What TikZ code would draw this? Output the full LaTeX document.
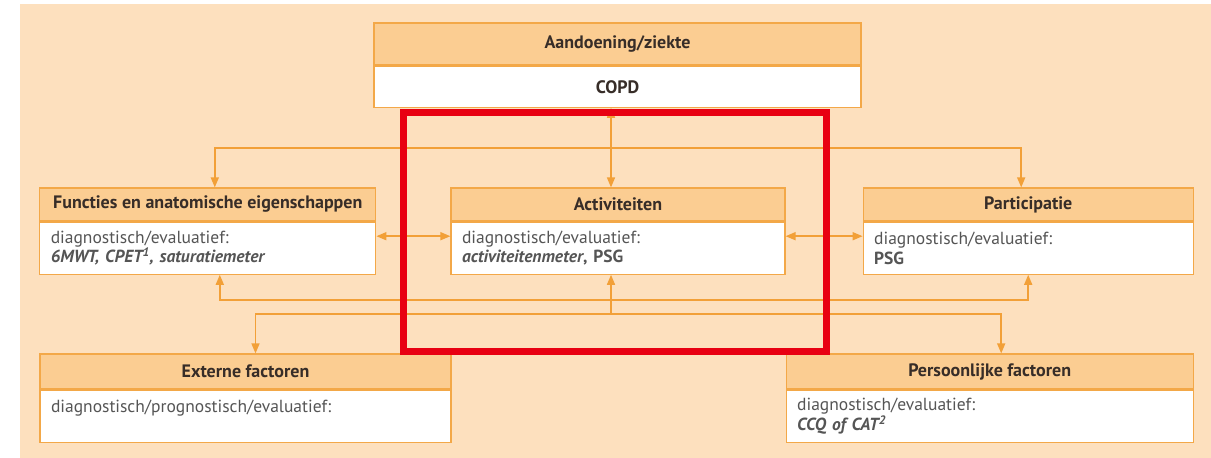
\documentclass[tikz,border=0pt]{standalone}
\usepackage{fontspec}
\setmainfont{PT Sans}
\usetikzlibrary{arrows.meta,positioning}
\definecolor{peach}{RGB}{253,224,190}
\definecolor{headfill}{RGB}{251,205,146}
\definecolor{boxline}{RGB}{243,168,72}
\definecolor{flow}{RGB}{242,160,56}
\definecolor{markred}{RGB}{232,0,18}
\definecolor{headtext}{RGB}{55,45,40}
\definecolor{bodytext}{RGB}{85,85,85}

\begin{document}
\begin{tikzpicture}[
  x=1pt, y=-1pt,
  font=\fontsize{17.5}{19.5}\selectfont,
  >={Triangle[length=10pt,width=8pt]},
  head/.style={draw=boxline, fill=headfill, line width=1.2pt, font=\fontsize{18}{20}\selectfont\bfseries, text=headtext, minimum height=33pt, inner sep=0pt},
  body/.style={draw=boxline, fill=white, line width=1.2pt, align=left, text width=#1, minimum height=52pt, inner xsep=11pt, inner ysep=0pt, text=bodytext},
  oneway/.style={->, draw=flow, line width=1.5pt},
  twoway/.style={<->, draw=flow, line width=1.5pt}
]
\useasboundingbox (0,0) rectangle (1211,458);
\fill[peach] (20,4) rectangle (1211,458);

% disease on top
\node[head, minimum width=487pt, minimum height=42pt] (dishead) at (617.5,44) {Aandoening/ziekte};
\node[head, fill=white, below=0pt of dishead, minimum width=487pt, minimum height=41pt] (disbody) {COPD};

% middle row
\node[head, minimum width=334pt] (acthead) at (618,204.5) {Activiteiten};
\node[body=312pt, below=0pt of acthead] (actbody) {diagnostisch/evaluatief:\\\textbf{\textit{activiteitenmeter},} \textbf{PSG}};

\node[head, minimum width=336pt, left=74pt of acthead] (funhead) {Functies en anatomische eigenschappen};
\node[body=314pt, below=0pt of funhead] (funbody) {diagnostisch/evaluatief:\\\textbf{\textit{6MWT, CPET\textsuperscript{1}, saturatiemeter}}};

\node[head, minimum width=330pt, right=77pt of acthead] (parthead) {Participatie};
\node[body=308pt, below=0pt of parthead] (partbody) {diagnostisch/evaluatief:\\\textbf{PSG}};

% bottom row
\node[head, minimum width=411pt, minimum height=35pt] (exthead) at (245.5,371.5) {Externe factoren};
\node[body=389pt, below=0pt of exthead] (extbody) {diagnostisch/prognostisch/evaluatief:\\~};

\node[head, minimum width=407pt, minimum height=35pt, right=334pt of exthead] (perhead) {Persoonlijke factoren};
\node[body=385pt, below=0pt of perhead] (perbody) {diagnostisch/evaluatief:\\\textbf{\textit{CCQ of CAT\textsuperscript{2}}}};

% connectors
\coordinate (topfork) at (611,148);
\coordinate (midbus) at (611,300);
\coordinate (lowfork) at (611,314);

\draw[twoway] (topfork |- disbody.south) -- (topfork |- acthead.north);
\draw[oneway] (topfork) -| ([xshift=7pt]funhead.north);
\draw[oneway] (topfork) -| ([xshift=-7pt]parthead.north);

\draw[twoway] ([yshift=12pt]funbody.east) -- ([yshift=12pt]actbody.west);
\draw[twoway] ([yshift=12pt]actbody.east) -- ([yshift=12pt]partbody.west);

\draw[oneway] (lowfork) -- (lowfork |- actbody.south);
\draw[oneway] (midbus) -| ([xshift=12pt]funbody.south);
\draw[oneway] (midbus) -| (partbody.south);
\draw[oneway] (lowfork) -| ([xshift=10pt]exthead.north);
\draw[oneway] (lowfork) -| ([xshift=11.5pt]perhead.north);

% highlight frame
\draw[markred, line width=7pt] (403.5,112.5) rectangle (826.5,351.5);
\end{tikzpicture}
\end{document}
